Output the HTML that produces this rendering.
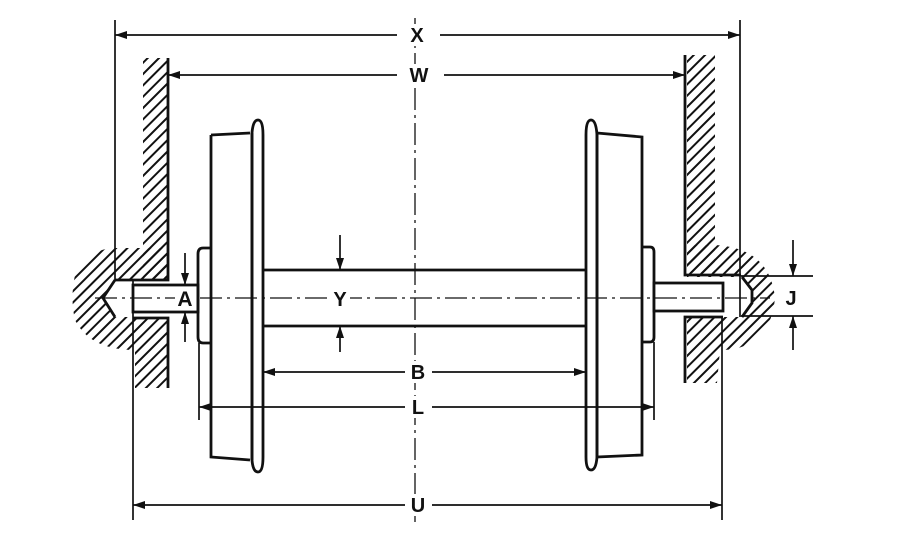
<!DOCTYPE html>
<html><head><meta charset="utf-8"><style>
html,body{margin:0;padding:0;background:#fff;}
svg{display:block}
text{font-family:"Liberation Sans",sans-serif;font-size:20px;font-weight:bold;fill:#111;text-anchor:middle;}
</style></head><body>
<svg width="906" height="549" viewBox="0 0 906 549" xmlns="http://www.w3.org/2000/svg">
<defs>
<pattern id="h" width="8" height="8" patternUnits="userSpaceOnUse" patternTransform="rotate(45)">
<line x1="1.5" y1="0" x2="1.5" y2="8" stroke="#111" stroke-width="2"/>
</pattern>
<marker id="ar" markerWidth="12" markerHeight="8" refX="12" refY="4" orient="auto" markerUnits="userSpaceOnUse">
<path d="M0,0 L12,4 L0,8 Z" fill="#111"/>
</marker>
</defs>
<rect width="906" height="549" fill="#fff"/>

<g fill="url(#h)">
<rect x="143" y="58" width="25" height="222"/>
<path d="M115,248 L168,248 L168,280 L115,280 L103,298 L115,317 L168,317 L168,388 L135,388 L135,350 Q90,350 75,320 Q70,298 75,275 Q90,248 115,248 Z"/>
<rect x="687" y="55" width="28" height="218"/>
<path d="M715,245 Q770,248 775,298 Q770,350 720,350 L717,383 L687,383 L687,317 L742,317 L752,303 L752,290 L742,277 L687,277 L687,245 Z"/>
</g>

<g stroke="#111" fill="none" stroke-width="2.8">
<polyline points="168,58 168,280 115,280"/>
<polyline points="133,318 168,318 168,388"/>
<polyline points="115,280 103,298 115,317"/>
<polyline points="685,55 685,275 741,275"/>
<polyline points="723,317 685,317 685,383"/>
<polyline points="742,277 752,290 752,303 742,317"/>
<rect x="133" y="285" width="65" height="27" fill="#fff"/>
<path d="M211,248 L203,248 Q198,248 198,254 L198,337 Q198,343 203,343 L211,343"/>
<path d="M211,135 L211,457 L250,460"/>
<path d="M211,135 L250,133"/>
<path d="M252,133 Q253,120 258,120 Q263,120 263,135 L263,457 Q263,472 258,472 Q253,472 252,460 Z" fill="#fff"/>
<line x1="252" y1="133" x2="252" y2="460"/>
<line x1="263" y1="270" x2="586" y2="270"/>
<line x1="263" y1="326" x2="586" y2="326"/>
<path d="M597,133 L642,137 L642,455 L597,457"/>
<path d="M597,135 Q596,120 591,120 Q586,120 586,135 L586,457 Q586,470 591,470 Q596,470 597,457 Z" fill="#fff"/>
<line x1="597" y1="133" x2="597" y2="458"/>
<path d="M642,247 L650,247 Q654,247 654,252 L654,337 Q654,342 650,342 L642,342"/>
<rect x="654" y="283" width="69" height="28" fill="#fff"/>
</g>

<g stroke="#111" fill="none" stroke-width="1.7">
<line x1="115" y1="20" x2="115" y2="280"/>
<line x1="133" y1="280" x2="133" y2="520"/>
<line x1="740" y1="20" x2="740" y2="317"/>
<line x1="722" y1="317" x2="722" y2="520"/>
<line x1="199" y1="343" x2="199" y2="420"/>
<line x1="654" y1="342" x2="654" y2="420"/>
<line x1="741" y1="276" x2="813" y2="276"/>
<line x1="741" y1="316" x2="813" y2="316"/>
<line x1="415" y1="18" x2="415" y2="522" stroke-dasharray="22,5,3,5" stroke-width="1.3"/>
<line x1="95" y1="298" x2="770" y2="298" stroke-dasharray="22,5,3,5" stroke-width="1.3"/>
<line x1="397" y1="35" x2="115" y2="35" marker-end="url(#ar)"/>
<line x1="440" y1="35" x2="740" y2="35" marker-end="url(#ar)"/>
<line x1="397" y1="75" x2="168" y2="75" marker-end="url(#ar)"/>
<line x1="444" y1="75" x2="685" y2="75" marker-end="url(#ar)"/>
<line x1="405" y1="372" x2="263" y2="372" marker-end="url(#ar)"/>
<line x1="432" y1="372" x2="586" y2="372" marker-end="url(#ar)"/>
<line x1="405" y1="407" x2="199" y2="407" marker-end="url(#ar)"/>
<line x1="432" y1="407" x2="654" y2="407" marker-end="url(#ar)"/>
<line x1="405" y1="505" x2="133" y2="505" marker-end="url(#ar)"/>
<line x1="432" y1="505" x2="722" y2="505" marker-end="url(#ar)"/>
<line x1="340" y1="235" x2="340" y2="270" marker-end="url(#ar)"/>
<line x1="340" y1="352" x2="340" y2="326" marker-end="url(#ar)"/>
<line x1="185" y1="253" x2="185" y2="285" marker-end="url(#ar)"/>
<line x1="185" y1="342" x2="185" y2="312" marker-end="url(#ar)"/>
<line x1="793" y1="240" x2="793" y2="276" marker-end="url(#ar)"/>
<line x1="793" y1="350" x2="793" y2="316" marker-end="url(#ar)"/>
</g>

<g>
<rect x="400" y="24" width="34" height="22" fill="#fff"/>
<text x="417" y="42">X</text>
<rect x="400" y="64" width="38" height="22" fill="#fff"/>
<text x="419" y="82">W</text>
<rect x="330" y="288" width="20" height="22" fill="#fff"/>
<text x="340" y="306">Y</text>
<rect x="175" y="289" width="20" height="20" fill="#fff"/>
<text x="185" y="306" style="font-size:21px">A</text>
<rect x="408" y="361" width="20" height="22" fill="#fff"/>
<text x="418" y="379">B</text>
<rect x="408" y="396" width="20" height="22" fill="#fff"/>
<text x="418" y="414">L</text>
<rect x="408" y="494" width="20" height="22" fill="#fff"/>
<text x="418" y="512">U</text>
<text x="791" y="305">J</text>
</g>
</svg>
</body></html>
